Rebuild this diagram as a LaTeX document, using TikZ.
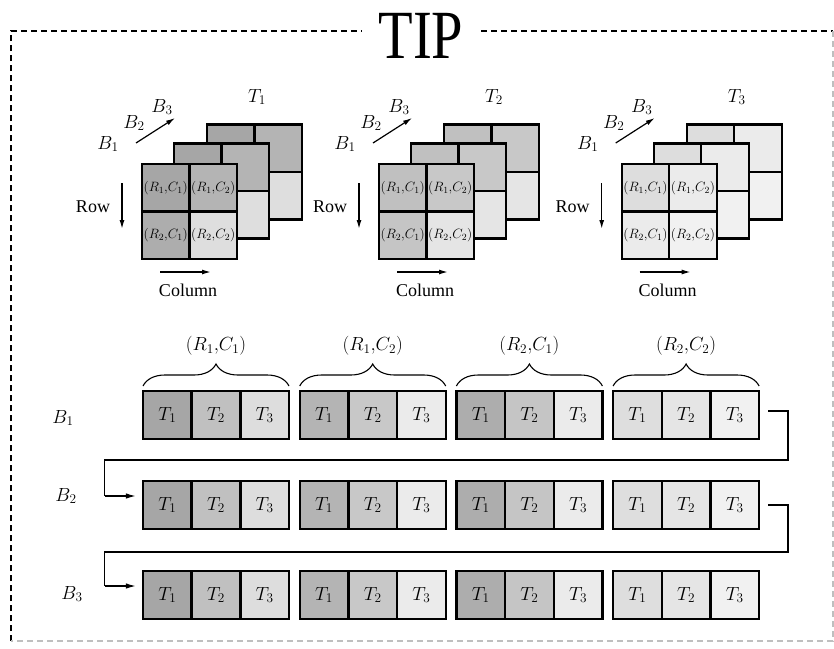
\RequirePackage{fix-cm}
\documentclass[tikz,border=0pt]{standalone}
\usepackage{fontspec}
\setmainfont{Liberation Serif}
\usetikzlibrary{arrows.meta,calc,decorations.pathreplacing}

% shades per time step (first digit), row and column
\definecolor{sh111}{HTML}{A6A6A6}\definecolor{sh112}{HTML}{B4B4B4}
\definecolor{sh121}{HTML}{ADADAD}\definecolor{sh122}{HTML}{DEDEDE}
\definecolor{sh211}{HTML}{C0C0C0}\definecolor{sh212}{HTML}{C8C8C8}
\definecolor{sh221}{HTML}{C5C5C5}\definecolor{sh222}{HTML}{E5E5E5}
\definecolor{sh311}{HTML}{DDDDDD}\definecolor{sh312}{HTML}{EBEBEB}
\definecolor{sh321}{HTML}{EBEBEB}\definecolor{sh322}{HTML}{F1F1F1}

\begin{document}
\begin{tikzpicture}[x=1pt,y=-1pt,
  gcell/.style={draw=black, line width=2.4pt, minimum width=47.5pt, minimum height=47.5pt,
                inner sep=0pt, font=\fontsize{13.5}{14}\selectfont},
  bcell/.style={draw=black, line width=2.4pt, minimum width=48.67pt, minimum height=48pt,
                inner sep=0pt, font=\fontsize{19}{20}\selectfont},
  lbl/.style={inner sep=0pt, font=\fontsize{19}{20}\selectfont},
  axarrow/.style={line width=1.4pt, -{Latex[length=9pt,width=5pt]}},
  conn/.style={line width=1.2pt},
  connarrow/.style={line width=1.2pt, -{Latex[length=10pt,width=5.5pt]}},
  frame/.style={line width=1.2pt, dash pattern=on 6pt off 4pt},
  brc/.style={line width=1.1pt, decorate, decoration={brace, amplitude=22pt, aspect=0.5}}]

\useasboundingbox (0,0) rectangle (834,648);

% dashed outer frame with the title
\node[anchor=base, inner sep=0pt, font=\fontsize{69}{69}\selectfont, xscale=0.82] (title) at (421,58) {TIP};
\coordinate (fl) at (11,31);
\coordinate (fr) at (833,31);
\coordinate (fbl) at (11,641);
\coordinate (fbr) at (833,641);
\draw[frame] (fbl) -- (fl) -- (362,31);
\draw[frame] (481,31) -- (fr);
\draw[frame, black!25] (fr) -- (fbr) -- (fbl);

% three stacked 2x2 grids, one per time step
\foreach \t/\gx in {1/142, 2/379, 3/621.7} {
  \foreach \lay/\dx/\dy in {3/65/-39.5, 2/32/-20.5} {
    \foreach \r in {1,2} {
      \foreach \c in {1,2} {
        \node[gcell, fill=sh\t\r\c] (g\t-\lay-\r\c) at ({\gx+\dx+(\c-0.5)*47.5}, {164+\dy+(\r-0.5)*47.5}) {};
      }
    }
  }
  \foreach \r in {1,2} {
    \foreach \c in {1,2} {
      \node[gcell, fill=sh\t\r\c] (g\t-1-\r\c) at ({\gx+(\c-0.5)*47.5}, {164+(\r-0.5)*47.5}) {$(R_{\r}{,}C_{\c})$};
    }
  }
  \node[lbl] (tl\t) at (\gx+115,97) {$T_{\t}$};
  \node[lbl] (bla\t) at (\gx-34,144) {$B_1$};
  \node[lbl] (blb\t) at (\gx-8,123) {$B_2$};
  \node[lbl] (blc\t) at (\gx+20,107) {$B_3$};
  \coordinate (ba\t) at (\gx-6,143);
  \coordinate (bb\t) at (\gx+33,118);
  \draw[line width=1.2pt, -{Latex[length=9pt,width=5pt]}] (ba\t) -- (bb\t);
  \node[lbl, font=\fontsize{18}{19}\selectfont] (row\t) at (\gx-49,207) {Row};
  \coordinate (ra\t) at (\gx-20,183);
  \coordinate (rb\t) at (\gx-20,229);
  \draw[axarrow] (ra\t) -- (rb\t);
  \node[lbl, font=\fontsize{18}{19}\selectfont] (col\t) at (\gx+46,290) {Column};
  \coordinate (ca\t) at (\gx+18,272);
  \coordinate (cb\t) at (\gx+69,272);
  \draw[axarrow] (ca\t) -- (cb\t);
}

% serialized layout: four cell groups per band, three time steps per group
\foreach \rr/\cc [count=\gi] in {1/1, 1/2, 2/1, 2/2} {
  \pgfmathsetmacro{\gl}{143+(\gi-1)*156.7}
  \coordinate (bs\gi) at (\gl,386);
  \coordinate (be\gi) at (\gl+146,386);
  \draw[brc] (bs\gi) -- (be\gi);
  \node[lbl] (gl\gi) at (\gl+73,346) {$(R_{\rr}{,}C_{\cc})$};
  \foreach \b in {1,2,3} {
    \foreach \t in {1,2,3} {
      \node[bcell, fill=sh\t\rr\cc] (b\b g\gi t\t) at ({\gl+(\t-0.5)*48.67}, {415+(\b-1)*90}) {$T_{\t}$};
    }
  }
}
\node[lbl] (rb1) at (63,418) {$B_1$};
\node[lbl] (rb2) at (66,496) {$B_2$};
\node[lbl] (rb3) at (72,594) {$B_3$};

% wrap-around links between bands
\draw[conn] ($(b1g4t3.east)+(8,-4)$) -| (788,460) -| ($(b2g1t1.west)+(-37,-9)$);
\draw[connarrow] ($(b2g1t1.west)+(-37,-9)$) -- ($(b2g1t1.west)+(-6,-9)$);
\draw[conn] ($(b2g4t3.east)+(8,0)$) -| (788,552) -| ($(b3g1t1.west)+(-37,-9)$);
\draw[connarrow] ($(b3g1t1.west)+(-37,-9)$) -- ($(b3g1t1.west)+(-6,-9)$);

\end{tikzpicture}
\end{document}
